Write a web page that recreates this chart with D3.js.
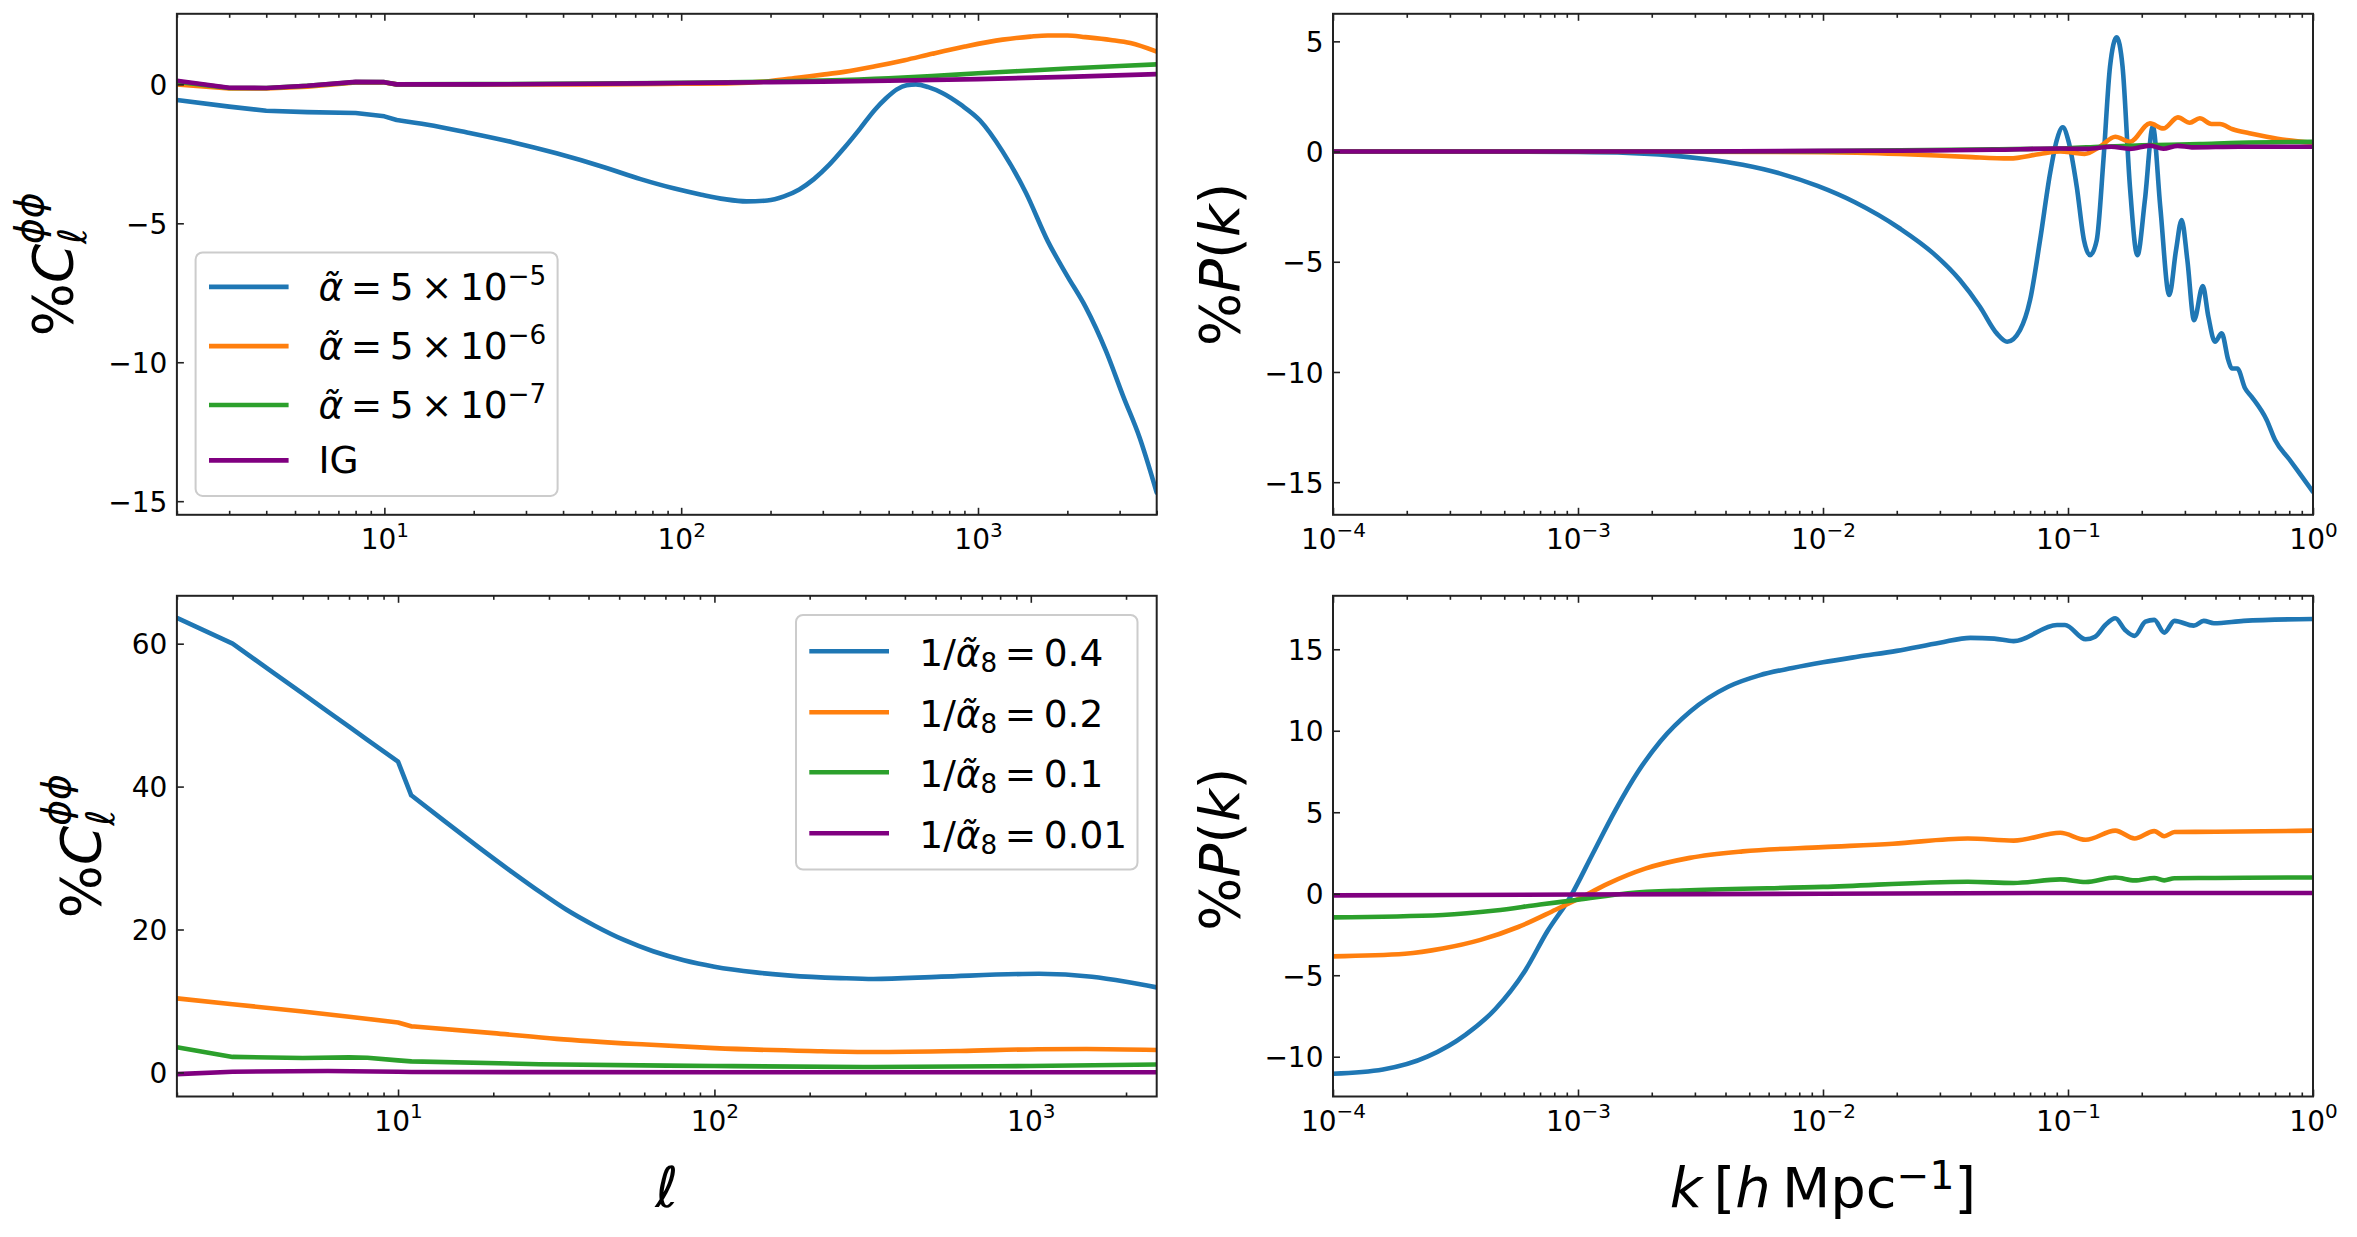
<!DOCTYPE html>
<html>
<head>
<meta charset="utf-8">
<script src="https://cdn.jsdelivr.net/npm/d3@7"></script>
<style>
  body { margin: 0; background: #fff; }
  svg { display: block; font-family: "DejaVu Sans", sans-serif; }
</style>
</head>
<body>
<svg id="fig" width="2357" height="1237"></svg>
<script>
// colours of the four runs (matplotlib tab10 + purple)
var colors = ["#1f77b4", "#ff7f0e", "#2ca02c", "purple"];

// ---------- top left : %C_ell^phiphi for the alpha-tilde runs ----------
var tlBlueEll = [2, 3, 4, 5.5, 8, 10, 11, 14, 19, 27, 38, 55, 73, 95, 117, 140, 166, 195, 222, 250, 280, 315, 354, 400, 448, 490, 533, 575, 618, 680, 758, 880, 1016, 1211, 1450, 1718, 2000, 2301, 2700, 3083, 3500, 4000];
var tlBlueVal = [-0.56, -0.8, -0.95, -1.0, -1.03, -1.15, -1.28, -1.45, -1.73, -2.08, -2.48, -2.98, -3.41, -3.75, -3.97, -4.13, -4.21, -4.18, -4.03, -3.78, -3.41, -2.9, -2.29, -1.6, -0.93, -0.5, -0.18, -0.03, 0.0, -0.1, -0.31, -0.75, -1.3, -2.42, -3.9, -5.64, -6.9, -8.0, -9.6, -11.22, -12.7, -14.69];
var tlOrangeEll = [2, 3, 4, 5.5, 8, 10, 11, 20, 50, 100, 150, 200, 250, 300, 354, 450, 566, 700, 903, 1211, 1500, 1718, 2000, 2301, 2800, 3263, 4000];
var tlOrangeVal = [0.0, -0.15, -0.15, -0.08, 0.07, 0.07, 0.0, 0.0, 0.0, 0.02, 0.04, 0.12, 0.25, 0.35, 0.45, 0.65, 0.87, 1.1, 1.36, 1.61, 1.72, 1.76, 1.76, 1.7, 1.6, 1.49, 1.18];
var tlGreenEll = [2, 3, 4, 5.5, 8, 10, 11, 20, 50, 100, 200, 300, 500, 700, 1000, 1500, 2000, 3000, 4000];
var tlGreenVal = [0.1, -0.13, -0.13, -0.05, 0.08, 0.08, 0.0, 0.01, 0.03, 0.06, 0.1, 0.14, 0.22, 0.3, 0.4, 0.5, 0.57, 0.66, 0.72];
var tlPurpleEll = [2, 3, 4, 5.5, 8, 10, 11, 20, 50, 100, 200, 300, 500, 1000, 2000, 4000];
var tlPurpleVal = [0.13, -0.12, -0.13, -0.05, 0.09, 0.08, 0.0, 0.0, 0.02, 0.05, 0.08, 0.1, 0.13, 0.19, 0.27, 0.37];

// ---------- top right : %P(k) for the alpha-tilde runs ----------
var trBlueK = [1e-4, 3e-4, 1e-3, 1.6e-3, 2.33e-3, 3.3e-3, 4.7e-3, 6.7e-3, 9.5e-3, 1.35e-2, 2.06e-2, 2.82e-2, 3.62e-2, 4.37e-2, 5.12e-2, 5.65e-2, 6.37e-2, 0.07, 0.0769, 0.0845, 0.09, 0.0952, 0.1002, 0.1086, 0.1162, 0.123, 0.131, 0.1395, 0.1484, 0.158, 0.167, 0.179, 0.192, 0.206, 0.222, 0.238, 0.259, 0.276, 0.291, 0.307, 0.327, 0.355, 0.374, 0.398, 0.424, 0.451, 0.466, 0.491, 0.528, 0.562, 0.647, 0.70, 0.8, 0.9, 1.0];
var trBlueVal = [0, 0, -0.02, -0.06, -0.16, -0.34, -0.6, -1.0, -1.56, -2.3, -3.49, -4.62, -5.83, -7.04, -8.25, -8.63, -8.1, -6.74, -4.02, -0.99, 0.52, 1.1, 0.52, -1.6, -4.02, -4.7, -4.02, -0.39, 3.85, 5.18, 3.85, -1.6, -4.7, -2.2, 1.13, -2.5, -6.51, -4.47, -3.11, -4.92, -7.65, -6.1, -7.49, -8.63, -8.25, -9.46, -9.84, -9.84, -10.74, -11.13, -12.18, -13.09, -13.96, -14.74, -15.44];
var trOrangeK = [1e-4, 1e-3, 1e-2, 0.0206, 0.0386, 0.0577, 0.0769, 0.093, 0.105, 0.117, 0.135, 0.156, 0.179, 0.216, 0.245, 0.281, 0.314, 0.345, 0.385, 0.417, 0.47, 0.55, 0.647, 0.78, 1.0];
var trOrangeVal = [0, 0, -0.03, -0.11, -0.24, -0.31, -0.11, 0.0, -0.05, -0.11, 0.22, 0.67, 0.44, 1.28, 1.05, 1.55, 1.31, 1.51, 1.25, 1.25, 1.01, 0.83, 0.67, 0.52, 0.4];
var trGreenK = [1e-4, 1e-3, 1e-2, 0.0206, 0.05, 0.1, 0.135, 0.2, 0.345, 0.5, 1.0];
var trGreenVal = [0, 0, 0.02, 0.06, 0.1, 0.15, 0.22, 0.28, 0.34, 0.4, 0.44];
var trPurpleK = [1e-4, 1e-3, 3e-3, 1e-2, 0.0206, 0.05, 0.093, 0.12, 0.15, 0.179, 0.216, 0.245, 0.28, 0.32, 0.5, 1.0];
var trPurpleVal = [0, 0, 0.0, 0.03, 0.04, 0.08, 0.14, 0.12, 0.22, 0.12, 0.27, 0.13, 0.26, 0.19, 0.22, 0.22];

// ---------- bottom left : %C_ell^phiphi for the 1/alpha_8 runs ----------
var blBlueEll = [2, 3, 4, 5, 6, 7, 8, 10, 11, 14, 18, 23, 28, 34, 42, 52, 64, 80, 100, 135, 174, 250, 318, 521, 1062, 1560, 2000, 2500];
var blBlueVal = [63.6, 60.0, 56.05, 53.0, 50.5, 48.4, 46.55, 43.5, 38.8, 35.2, 31.5, 28.0, 25.3, 22.8, 20.5, 18.5, 16.95, 15.7, 14.8, 14.0, 13.55, 13.2, 13.07, 13.4, 13.8, 13.4, 12.7, 11.9];
var blOrangeEll = [2, 3, 5, 7, 10, 11, 20, 31.7, 61, 100, 200, 317, 600, 1054, 1500, 2500];
var blOrangeVal = [10.36, 9.54, 8.52, 7.8, 6.98, 6.45, 5.5, 4.7, 3.9, 3.4, 3.0, 2.85, 3.0, 3.25, 3.28, 3.13];
var blGreenEll = [2, 3, 5, 7, 8, 10, 11, 28, 100, 317, 1000, 2500];
var blGreenVal = [3.51, 2.17, 2.02, 2.11, 2.05, 1.68, 1.54, 1.15, 0.9, 0.75, 0.9, 1.1];
var blPurpleEll = [2, 3, 6, 10, 11, 100, 1000, 2500];
var blPurpleVal = [-0.24, 0.1, 0.2, 0.1, 0.05, 0.03, 0.02, 0.02];

// ---------- bottom right : %P(k) for the 1/alpha_8 runs ----------
var brBlueK = [1e-4, 1.6e-4, 2.44e-4, 3.47e-4, 4.6e-4, 6.1e-4, 7.5e-4, 9.3e-4, 1.15e-3, 1.42e-3, 1.76e-3, 2.17e-3, 2.88e-3, 4.1e-3, 5.5e-3, 7.5e-3, 1e-2, 1.4e-2, 2e-2, 3e-2, 4e-2, 5e-2, 6e-2, 0.0902, 0.0972, 0.118, 0.129, 0.142, 0.156, 0.171, 0.187, 0.207, 0.225, 0.247, 0.272, 0.326, 0.358, 0.394, 0.521, 1.0];
var brBlueVal = [-11.04, -10.78, -9.98, -8.66, -7.07, -4.69, -2.3, -0.2, 2.47, 5.12, 7.5, 9.36, 11.2, 12.7, 13.4, 13.85, 14.2, 14.55, 14.9, 15.4, 15.7, 15.65, 15.5, 16.49, 16.49, 15.61, 15.77, 16.49, 16.9, 16.18, 15.82, 16.69, 16.8, 16.02, 16.74, 16.45, 16.74, 16.6, 16.74, 16.86];
var brOrangeK = [1e-4, 1.97e-4, 2.8e-4, 4e-4, 5.7e-4, 8.1e-4, 1e-3, 1.32e-3, 1.88e-3, 2.86e-3, 4.7e-3, 1e-2, 1.93e-2, 3.9e-2, 6e-2, 0.093, 0.118, 0.156, 0.187, 0.225, 0.247, 0.272, 0.4, 1.0];
var brOrangeVal = [-3.84, -3.68, -3.36, -2.83, -2.04, -0.98, -0.32, 0.61, 1.54, 2.2, 2.6, 2.86, 3.07, 3.39, 3.26, 3.74, 3.31, 3.87, 3.39, 3.84, 3.53, 3.79, 3.8, 3.87];
var brGreenK = [1e-4, 2.8e-4, 4.6e-4, 7e-4, 1e-3, 1.6e-3, 2.86e-3, 1e-2, 3.9e-2, 6e-2, 0.093, 0.118, 0.156, 0.187, 0.225, 0.247, 0.272, 0.4, 1.0];
var brGreenVal = [-1.45, -1.3, -1.03, -0.66, -0.37, 0.03, 0.21, 0.42, 0.74, 0.66, 0.88, 0.72, 1.0, 0.82, 0.97, 0.82, 0.95, 0.97, 1.0];
var brPurpleK = [1e-4, 1e-3, 1e-2, 0.1, 1.0];
var brPurpleVal = [-0.1, -0.05, 0.0, 0.05, 0.05];

// tick values
var ellMajor = [10, 100, 1000];
var ellExp = ["1", "2", "3"];
var kMajor = [1e-4, 1e-3, 1e-2, 1e-1, 1];
var kExp = ["\u22124", "\u22123", "\u22122", "\u22121", "0"];
var tlYTicks = [0, -5, -10, -15];
var trYTicks = [5, 0, -5, -10, -15];
var blYTicks = [0, 20, 40, 60];
var brYTicks = [-10, -5, 0, 5, 10, 15];

// legend labels
var topLegend = ["5\u2009\u00d7\u200910", "5\u2009\u00d7\u200910", "5\u2009\u00d7\u200910", "IG"];
var topLegendExp = ["\u22125", "\u22126", "\u22127", ""];
var botLegend = ["0.4", "0.2", "0.1", "0.01"];

var svg = d3.select("#fig");
svg.append("rect").attr("width", 2357).attr("height", 1237).attr("fill", "#fff");

// write a small mathtext-like label as tspans (sub/superscripts via dy)
function mathText(parent, x, y, parts, size, anchor, rot) {
  var t = parent.append("text")
    .attr("transform", "translate(" + x + "," + y + ")" + (rot ? " rotate(-90)" : ""))
    .attr("text-anchor", anchor || "start")
    .attr("fill", "#000")
    .style("font-size", size + "px");
  var shift = 0, lastW = 0;
  parts.forEach(function(p) {
    var want = (p.dy || 0) * size;
    var ts = t.append("tspan").text(p.t).style("font-size", (size * (p.s || 1)) + "px");
    if (want !== shift) ts.attr("dy", want - shift);
    if (p.back) ts.attr("dx", -lastW);
    if (p.it) ts.style("font-style", "italic");
    shift = want;
    lastW = ts.node().getComputedTextLength();
  });
  return t;
}

function minorTicks(dom) {
  var out = [];
  for (var e = -6; e <= 5; e++) {
    for (var m = 2; m <= 9; m++) {
      var v = m * Math.pow(10, e);
      if (v >= dom[0] * 0.999 && v <= dom[1] * 1.001) out.push(v);
    }
  }
  return out;
}

function drawPanel(cfg) {
  var b = cfg.box;
  var x = d3.scaleLog().domain(cfg.xDom).range([b.l, b.r]);
  var y = d3.scaleLinear().domain(cfg.yDom).range([b.b, b.t]);
  var g = svg.append("g");

  var clipId = "clip" + cfg.id;
  g.append("clipPath").attr("id", clipId).append("rect")
    .attr("x", b.l).attr("y", b.t).attr("width", b.r - b.l).attr("height", b.b - b.t);

  var smooth = d3.line()
    .x(function(d) { return x(d[0]); })
    .y(function(d) { return y(d[1]); })
    .curve(d3.curveMonotoneX);
  var straight = d3.line()
    .x(function(d) { return x(d[0]); })
    .y(function(d) { return y(d[1]); });

  // low multipoles (integer ell) are joined by straight segments, the rest is smooth
  var thr = cfg.linearTo || 0;
  var lines = g.append("g").attr("clip-path", "url(#" + clipId + ")");
  cfg.series.forEach(function(s, i) {
    var pts = d3.zip(s[0], s[1]);
    var lo = pts.filter(function(d) { return d[0] <= thr; });
    var hi = pts.filter(function(d) { return d[0] >= thr; });
    var d = (lo.length > 1 ? straight(lo) : "") + (hi.length > 1 ? smooth(hi) : "");
    lines.append("path")
      .attr("d", d)
      .attr("fill", "none")
      .attr("stroke", colors[i])
      .attr("stroke-width", 4.6)
      .attr("stroke-linejoin", "round")
      .attr("stroke-linecap", "round");
  });

  var minors = minorTicks(cfg.xDom);

  // bottom major ticks with 10^n labels
  var xb = g.append("g").attr("transform", "translate(0," + b.b + ")")
    .call(d3.axisBottom(x).tickValues(cfg.xMajor).tickSizeInner(-7).tickSizeOuter(0));
  xb.selectAll(".tick text").each(function(d, i) {
    var t = d3.select(this);
    t.text(null).attr("y", 34.5).attr("dy", null)
      .attr("fill", "#000").style("font-size", "28px");
    t.append("tspan").text("10");
    t.append("tspan").attr("dy", -12.6).style("font-size", "20px").text(cfg.xExp[i]);
  });
  g.append("g").attr("transform", "translate(0," + b.b + ")")
    .call(d3.axisBottom(x).tickValues(minors).tickSizeInner(-4).tickSizeOuter(0).tickFormat(""));
  g.append("g").attr("transform", "translate(0," + b.t + ")")
    .call(d3.axisTop(x).tickValues(cfg.xMajor).tickSizeInner(-7).tickSizeOuter(0).tickFormat(""));
  g.append("g").attr("transform", "translate(0," + b.t + ")")
    .call(d3.axisTop(x).tickValues(minors).tickSizeInner(-4).tickSizeOuter(0).tickFormat(""));

  var yl = g.append("g").attr("transform", "translate(" + b.l + ",0)")
    .call(d3.axisLeft(y).tickValues(cfg.yTicks).tickSizeInner(-7).tickSizeOuter(0).tickPadding(9.5)
      .tickFormat(function(d) { return d < 0 ? "\u2212" + (-d) : String(d); }));
  yl.selectAll(".tick text").attr("dy", "0.36em").attr("fill", "#000").style("font-size", "28px");

  g.selectAll(".domain").remove();
  g.selectAll(".tick line").attr("stroke", "#222").attr("stroke-width", 1.6);
  g.selectAll(".tick text").style("font-family", "'DejaVu Sans', sans-serif");

  // spines
  g.append("rect")
    .attr("x", b.l).attr("y", b.t).attr("width", b.r - b.l).attr("height", b.b - b.t)
    .attr("fill", "none").attr("stroke", "#222").attr("stroke-width", 2);

  // axis labels
  mathText(g, cfg.yLab.x, (b.t + b.b) / 2 + cfg.yLab.dy, cfg.yLab.parts, 56, "middle", true);
  if (cfg.xLab) mathText(g, (b.l + b.r) / 2, 1207, cfg.xLab, 56, "middle", false);

  // legend
  if (cfg.legend) {
    var L = cfg.legend;
    var lg = g.append("g");
    lg.append("rect")
      .attr("x", L.x0).attr("y", L.y0).attr("width", L.x1 - L.x0).attr("height", L.y1 - L.y0)
      .attr("rx", 7).attr("fill", "#fff").attr("fill-opacity", 0.8)
      .attr("stroke", "#cccccc").attr("stroke-width", 2);
    L.rows.forEach(function(r, i) {
      lg.append("line")
        .attr("x1", L.lx0).attr("x2", L.lx1).attr("y1", r).attr("y2", r)
        .attr("stroke", colors[i]).attr("stroke-width", 4.6);
      mathText(lg, L.tx, r + L.base[i], L.parts[i], 37.5, "start", false);
    });
  }
}

var ellYLabel = [
  { t: "%" }, { t: "C", it: 1 },
  { t: "\u2113", it: 1, s: 0.7, dy: 0.25 },
  { t: "\u03d5\u03d5", it: 1, s: 0.7, dy: -0.53, back: 1 }
];
var pkYLabel = [{ t: "%" }, { t: "P", it: 1 }, { t: "(" }, { t: "k", it: 1 }, { t: ")" }];

var topParts = topLegend.map(function(s, i) {
  if (!topLegendExp[i]) return [{ t: s }];
  return [
    { t: "\u03b1\u0303", it: 1 },
    { t: "\u2009=\u2009" + s },
    { t: topLegendExp[i], s: 0.7, dy: -0.4 }
  ];
});
var botParts = botLegend.map(function(s) {
  return [
    { t: "1/" }, { t: "\u03b1\u0303", it: 1 },
    { t: "8", s: 0.7, dy: 0.14 },
    { t: "\u2009=\u2009" + s, dy: 0 }
  ];
});

drawPanel({
  id: "tl", box: { l: 176.9, r: 1156.7, t: 13.8, b: 514.8 },
  xDom: [2, 4000], yDom: [-15.49, 2.54], linearTo: 11,
  xMajor: ellMajor, xExp: ellExp, yTicks: tlYTicks,
  series: [[tlBlueEll, tlBlueVal], [tlOrangeEll, tlOrangeVal], [tlGreenEll, tlGreenVal], [tlPurpleEll, tlPurpleVal]],
  yLab: { x: 72.3, dy: 0, parts: ellYLabel },
  legend: { x0: 195.6, y0: 252.4, x1: 557.6, y1: 495.9, lx0: 209, lx1: 288.6, tx: 318.5,
            rows: [286.9, 346.1, 405, 460.4], base: [13, 13, 13, 13], parts: topParts }
});
drawPanel({
  id: "tr", box: { l: 1333, r: 2313, t: 13.8, b: 514.8 },
  xDom: [1e-4, 1], yDom: [-16.48, 6.25],
  xMajor: kMajor, xExp: kExp, yTicks: trYTicks,
  series: [[trBlueK, trBlueVal], [trOrangeK, trOrangeVal], [trGreenK, trGreenVal], [trPurpleK, trPurpleVal]],
  yLab: { x: 1238.6, dy: 0, parts: pkYLabel }
});
drawPanel({
  id: "bl", box: { l: 176.9, r: 1156.7, t: 595.8, b: 1096.5 },
  xDom: [2, 2500], yDom: [-3.37, 66.7], linearTo: 11,
  xMajor: ellMajor, xExp: ellExp, yTicks: blYTicks,
  series: [[blBlueEll, blBlueVal], [blOrangeEll, blOrangeVal], [blGreenEll, blGreenVal], [blPurpleEll, blPurpleVal]],
  yLab: { x: 99.9, dy: 0, parts: ellYLabel },
  xLab: [{ t: "\u2113", it: 1 }],
  legend: { x0: 796, y0: 615, x1: 1137.5, y1: 869.5, lx0: 809.3, lx1: 889, tx: 919.3,
            rows: [651.3, 712.3, 772.3, 833.3], base: [15, 15, 15, 15], parts: botParts }
});
drawPanel({
  id: "br", box: { l: 1333, r: 2313, t: 595.8, b: 1096.5 },
  xDom: [1e-4, 1], yDom: [-12.44, 18.28],
  xMajor: kMajor, xExp: kExp, yTicks: brYTicks,
  series: [[brBlueK, brBlueVal], [brOrangeK, brOrangeVal], [brGreenK, brGreenVal], [brPurpleK, brPurpleVal]],
  yLab: { x: 1239, dy: 3, parts: pkYLabel },
  xLab: [{ t: "k", it: 1 }, { t: "\u2009[" }, { t: "h", it: 1 }, { t: "\u2009Mpc" },
         { t: "\u22121", s: 0.7, dy: -0.33 }, { t: "]", dy: 0 }]
});
</script>
</body>
</html>
